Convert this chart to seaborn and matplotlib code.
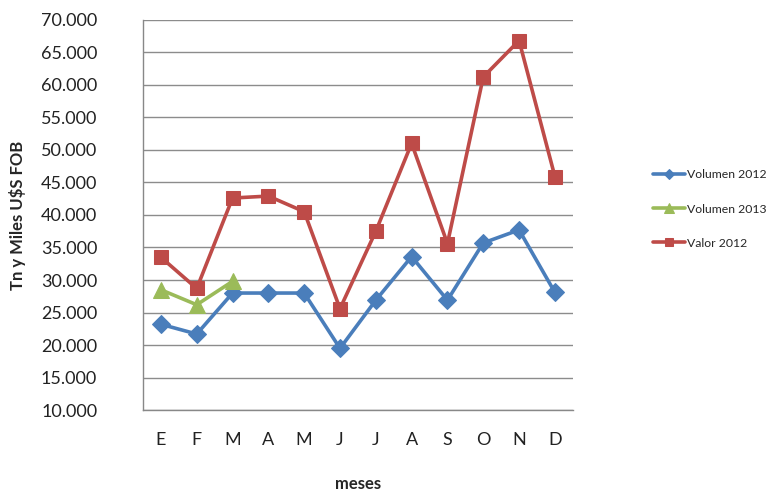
import matplotlib
matplotlib.use("Agg")
import matplotlib.pyplot as plt
import seaborn as sns
import numpy as np
import pandas as pd

# data (thousands of U$S / Tn)
meses = ["E", "F", "M", "A", "M", "J", "J", "A", "S", "O", "N", "D"]
volumen_2012 = [23.2, 21.7, 28.0, 28.0, 28.0, 19.5, 26.9, 33.6, 26.9, 35.7, 37.7, 28.1]
volumen_2013 = [28.5, 26.2, 29.8]
valor_2012 = [33.5, 28.7, 42.6, 42.9, 40.5, 25.6, 37.5, 51.0, 35.6, 61.2, 66.8, 45.9]
y_ticks = [10, 15, 20, 25, 30, 35, 40, 45, 50, 55, 60, 65, 70]

sns.set_style("white")
plt.rcParams["font.family"] = ["Lato", "DejaVu Sans"]

fig = plt.figure(figsize=(7.73, 4.93), dpi=100)
ax = fig.add_axes([0.185, 0.168, 0.556, 0.792])

pos = np.arange(len(meses))
series = [
    ("Volumen 2012", volumen_2012, "#4A7EBB", "D", 9),
    ("Volumen 2013", volumen_2013, "#9BBB59", "^", 11),
    ("Valor 2012", valor_2012, "#BE4B48", "s", 10.5),
]
for name, vals, col, mk, ms in series:
    df = pd.DataFrame({"x": pos[:len(vals)], "y": vals})
    sns.lineplot(data=df, x="x", y="y", ax=ax, color=col, linewidth=2.6,
                 marker=mk, markersize=ms, markeredgecolor=col, label=name)

ax.set_xlim(-0.5, len(meses) - 0.5)
ax.set_ylim(10, 70)
ax.set_yticks(y_ticks)
ax.set_yticklabels([f"{v}.000" for v in y_ticks], fontsize=13, color="#222222")
ax.set_xticks(pos)
ax.set_xticklabels(meses, fontsize=13, color="#222222")
ax.set_xticks(np.arange(-0.5, len(meses)), minor=True)
ax.tick_params(axis="x", which="major", length=0, pad=16)
ax.tick_params(axis="x", which="minor", length=5, color="#888888", width=1)
ax.tick_params(axis="y", length=5, color="#888888", width=1, pad=28)
ax.yaxis.grid(True, color="#8c8c8c", linewidth=1)
for s in ["top", "right"]:
    ax.spines[s].set_visible(False)
for s in ["left", "bottom"]:
    ax.spines[s].set_color("#888888")
    ax.spines[s].set_linewidth(1)

ax.set_xlabel("meses", fontsize=12, fontweight="bold", labelpad=20)
ax.set_ylabel("Tn y Miles U$S FOB", fontsize=12, fontweight="bold", labelpad=11)

ax.legend(loc="center left", bbox_to_anchor=(0.845, 0.576),
          bbox_transform=fig.transFigure, frameon=False, borderaxespad=0,
          borderpad=0, fontsize=8.8, handlelength=2.6, markerscale=0.6,
          labelspacing=1.9, handletextpad=0.2)

fig.savefig("out.png", dpi=100)
